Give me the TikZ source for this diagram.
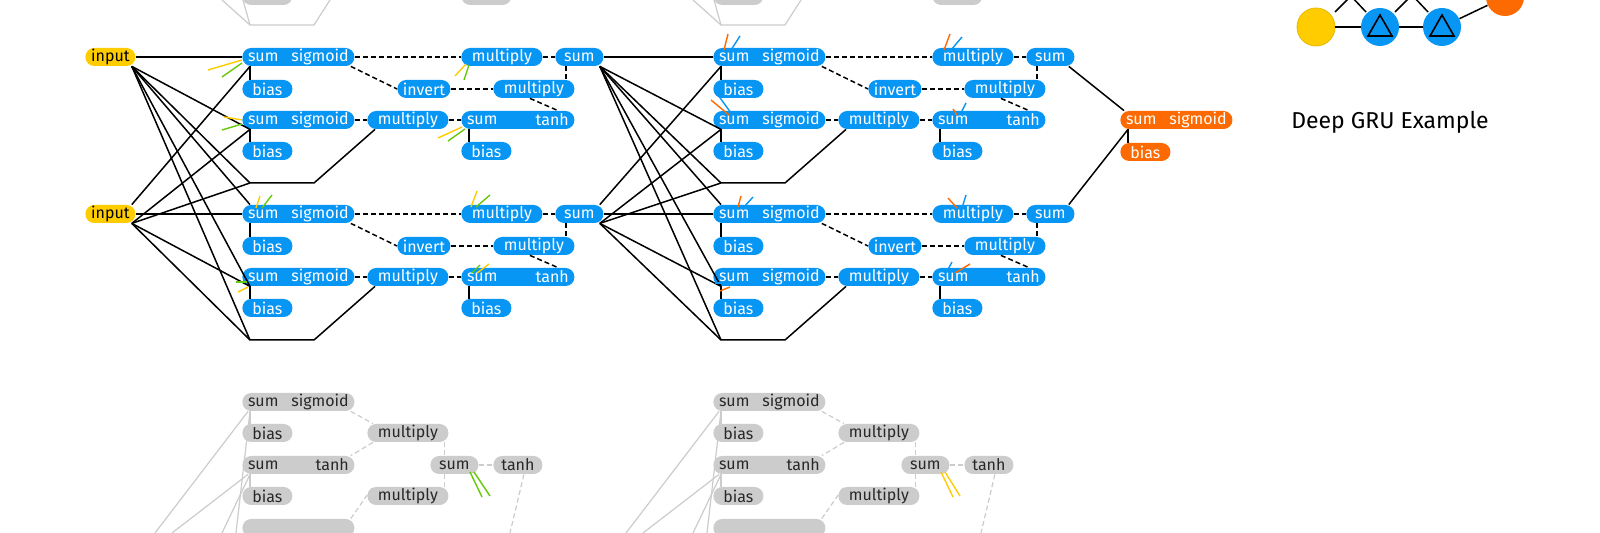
\documentclass[tikz,border=0pt]{standalone}
\usepackage{fontspec}
\setmainfont{Fira Sans}
\definecolor{bl}{RGB}{8,150,245}
\definecolor{og}{RGB}{253,106,2}
\definecolor{ye}{RGB}{255,204,0}
\definecolor{gr}{RGB}{204,204,204}
\definecolor{gn}{RGB}{102,200,10}
\definecolor{gt}{RGB}{40,40,40}
\tikzset{
 pill/.style={rounded corners=4.4pt,minimum height=9pt,inner sep=0pt,text=white,font=\fontsize{8}{9}\selectfont,anchor=west},
 lbl/.style={inner sep=0pt,text=white,font=\fontsize{8}{9}\selectfont},
 ln/.style={line width=0.75pt,black},
 dl/.style={line width=0.75pt,black,dash pattern=on 2.5pt off 1.5pt},
 gl/.style={line width=0.6pt,gr},
 gd/.style={line width=0.6pt,gr,dash pattern=on 2.5pt off 1.5pt},
 tk/.style={line width=0.7pt},
}
% name, x, y, width, colour, left text, right text, text colour
\newcommand\mypl[8]{%
 \node[pill,fill=#5,minimum width=#4*0.5pt] (#1) at (#2,#3) {};
 \node[lbl,text=#8,anchor=west] at ([xshift=2.8pt]#1.west) {#6};
 \node[lbl,text=#8,anchor=east] at ([xshift=-2.8pt]#1.east) {#7};}
% name, x, y, width, colour, text, text colour
\newcommand\mysp[7]{%
 \node[pill,fill=#5,minimum width=#4*0.5pt,text=#7] (#1) at (#2,#3) {#6};}
% one GRU unit: prefix, dx, dy
\newcommand\gruunit[3]{%
 \mypl{#1a}{#2+242}{#3+57}{112}{bl}{sum}{sigmoid}{white}
 \mysp{#1ab}{#2+242}{#3+89}{50}{bl}{bias}{white}
 \mypl{#1b}{#2+242}{#3+120}{112}{bl}{sum}{sigmoid}{white}
 \mysp{#1bb}{#2+242}{#3+151}{50}{bl}{bias}{white}
 \mysp{#1m}{#2+461}{#3+57}{81}{bl}{multiply}{white}
 \mysp{#1s}{#2+555}{#3+57}{48}{bl}{sum}{white}
 \mysp{#1i}{#2+397}{#3+89}{53}{bl}{invert}{white}
 \mysp{#1n}{#2+493}{#3+89}{81}{bl}{multiply}{white}
 \mysp{#1o}{#2+367}{#3+120}{81}{bl}{multiply}{white}
 \mypl{#1t}{#2+461}{#3+120}{113}{bl}{sum}{tanh}{white}
 \mysp{#1tb}{#2+461}{#3+151}{50}{bl}{bias}{white}
 \coordinate (#1c) at (#2+250,#3+183);
 \coordinate (#1d) at (#2+314,#3+183);
 \draw[ln] ([xshift=4pt]#1a.south west) -- ([xshift=4pt]#1ab.north west);
 \draw[ln] ([xshift=4pt]#1b.south west) -- ([xshift=4pt]#1bb.north west);
 \draw[ln] ([xshift=4pt]#1t.south west) -- ([xshift=4pt]#1tb.north west);
 \draw[dl] (#1a.east) -- (#1m.west);
 \draw[dl] ([xshift=-2pt]#1a.south east) -- (#1i.west);
 \draw[dl] (#1i.east) -- (#1n.west);
 \draw[dl] (#1m.east) -- (#1s.west);
 \draw[dl] ([xshift=5.5pt]#1s.south west) -- ([xshift=5.5pt]#1s.south west |- #1n.north);
 \draw[dl] ([xshift=-2pt]#1n.south) -- ([xshift=20pt]#1t.north);
 \draw[dl] (#1b.east) -- (#1o.west);
 \draw[dl] (#1o.east) -- (#1t.west);
 \draw[ln] (#1c) -- (#1d) -- ([xshift=4pt]#1o.south west);}
% grey unit (bottom): prefix, dx, dy
\newcommand\gunit[3]{%
 \mypl{#1a}{#2+242}{#3+402}{112}{gr}{sum}{sigmoid}{gt}
 \mysp{#1ab}{#2+242}{#3+433}{50}{gr}{bias}{gt}
 \mysp{#1m}{#2+367}{#3+433}{81}{gr}{multiply}{gt}
 \mypl{#1b}{#2+242}{#3+465}{112}{gr}{sum}{tanh}{gt}
 \mysp{#1bb}{#2+242}{#3+496}{50}{gr}{bias}{gt}
 \mysp{#1n}{#2+367}{#3+496}{81}{gr}{multiply}{gt}
 \mysp{#1s}{#2+430}{#3+465}{48}{gr}{sum}{gt}
 \mysp{#1t}{#2+493}{#3+465}{49}{gr}{tanh}{gt}
 \node[pill,fill=gr,minimum width=56pt] (#1x) at (#2+242,#3+528) {};
 \draw[gl] ([xshift=4pt]#1a.south west) -- ([xshift=4pt]#1ab.north west);
 \draw[gl] ([xshift=4pt]#1b.south west) -- ([xshift=4pt]#1bb.north west);
 \draw[gl] ([xshift=3pt]#1a.south west) -- (#2+155,533);
 \draw[gl] ([xshift=4pt]#1a.south west) -- (#2+236,533);
 \draw[gl] ([xshift=3pt]#1b.south west) -- (#2+172,533);
 \draw[gl] ([xshift=4pt]#1b.south west) -- (#2+222,533);
 \draw[gd] ([xshift=-2pt]#1a.south east) -- ([xshift=3pt]#1m.north west);
 \draw[gd] ([xshift=3pt]#1m.south west) -- ([xshift=-2pt]#1b.north east);
 \draw[gd] ([xshift=-2pt]#1x.north east) -- ([xshift=3pt]#1n.north west);
 \draw[gd] ([xshift=-2pt]#1m.south east) -- ([xshift=-2pt]#1m.south east |- #1s.north);
 \draw[gd] ([xshift=-2pt]#1n.north east) -- ([xshift=-2pt]#1n.north east |- #1s.south);
 \draw[gd] (#1s.east) -- (#1t.west);
 \draw[gd] ([xshift=3pt]#1t.south) -- (#2+510,533);}
% grey fragments at top: prefix, dx
\newcommand\gtop[2]{%
 \node[pill,fill=gr,minimum width=25pt] (#1p) at (#2+242,-4) {};
 \node[pill,fill=gr,minimum width=25pt] (#1q) at (#2+461,-4) {};
 \coordinate (#1c) at (#2+250,25);
 \coordinate (#1d) at (#2+314,25);
 \draw[gl] (#2+222,0) -- (#1c) -- (#1d) -- (#2+330,0);
 \draw[gl] (#2+243,0) -- (#1c);}
\begin{document}
\begin{tikzpicture}[x=0.5pt,y=-0.5pt]
\path[use as bounding box,fill=white] (0,0) rectangle (1600,533);
\clip (0,0) rectangle (1600,533);

\gtop{ga}{0}
\gtop{gb}{471}
\gunit{ua}{0}{0}
\gunit{ub}{471}{0}
\draw[gn,tk] (470,472) -- (482,497);
\draw[gn,tk] (474,472) -- (490,496);
\draw[ye,tk] (941,472) -- (953,497);
\draw[ye,tk] (945,472) -- (960,496);

\mysp{in1}{85}{57}{50}{ye}{input}{black}
\mysp{in2}{85}{214}{50}{ye}{input}{black}

\gruunit{A}{0}{0}
\gruunit{B}{0}{157}
\gruunit{C}{471}{0}
\gruunit{D}{471}{157}

% fan-in block 1
\foreach \s/\u in {in1/A,in2/B}{
  \draw[ln] (\s.east) -- (\u a.west);}
\foreach \s in {in1,in2}{
  \foreach \u in {A,B}{
    \draw[ln] ([xshift=-2pt]\s.south east) -- ([xshift=4pt]\u b.south west);
    \draw[ln] ([xshift=-2pt]\s.south east) -- (\u c);}}
\draw[ln] ([xshift=-2pt]in1.south east) -- ([xshift=4pt]Ba.north west);
\draw[ln] ([xshift=-2pt]in2.north east) -- ([xshift=4pt]Aa.south west);
% fan-in block 2
\foreach \s/\u in {As/C,Bs/D}{
  \draw[ln] (\s.east) -- (\u a.west);}
\foreach \s in {As,Bs}{
  \foreach \u in {C,D}{
    \draw[ln] ([xshift=-2pt]\s.south east) -- ([xshift=4pt]\u b.south west);
    \draw[ln] ([xshift=-2pt]\s.south east) -- (\u c);}}
\draw[ln] ([xshift=-2pt]As.south east) -- ([xshift=4pt]Da.north west);
\draw[ln] ([xshift=-2pt]Bs.north east) -- ([xshift=4pt]Ca.south west);

% output
\mypl{O}{1120}{120}{112}{og}{sum}{sigmoid}{white}
\mysp{Ob}{1120}{152}{50}{og}{bias}{white}
\draw[ln] ([xshift=4pt]O.south west) -- ([xshift=4pt]Ob.north west);
\draw[ln] ([xshift=-3pt]Cs.south east) -- ([xshift=2pt]O.north west);
\draw[ln] ([xshift=-3pt]Ds.north east) -- ([xshift=4pt]O.south west);

% coloured ticks block 1
\draw[ye,tk] (208,70) -- (242,60);  \draw[gn,tk] (222,77) -- (242,63);
\draw[ye,tk] (224,117) -- (242,120); \draw[gn,tk] (222,130) -- (242,124);
\draw[ye,tk] (455,76) -- (466,64);  \draw[gn,tk] (464,80) -- (469,65);
\draw[ye,tk] (438,138) -- (462,127); \draw[gn,tk] (448,141) -- (465,129);
\draw[ye,tk] (260,196) -- (256,208); \draw[gn,tk] (272,195) -- (262,208);
\draw[ye,tk] (477,191) -- (471,207); \draw[gn,tk] (490,195) -- (476,207);
\draw[gn,tk] (236,282) -- (247,282); \draw[ye,tk] (238,292) -- (248,287);
\draw[gn,tk] (480,265) -- (472,273); \draw[ye,tk] (489,264) -- (477,273);
% coloured ticks block 2
\draw[og,tk] (728,34) -- (724,50);  \draw[bl,tk] (740,36) -- (731,50);
\draw[og,tk] (950,34) -- (944,50);  \draw[bl,tk] (962,37) -- (951,50);
\draw[og,tk] (711,100) -- (729,115); \draw[bl,tk] (718,95) -- (731,113);
\draw[og,tk] (953,109) -- (957,115); \draw[bl,tk] (966,103) -- (960,115);
\draw[og,tk] (741,196) -- (738,207); \draw[bl,tk] (753,197) -- (744,207);
\draw[og,tk] (948,198) -- (957,208); \draw[bl,tk] (966,195) -- (962,208);
\draw[bl,tk] (952,262) -- (946,273); \draw[og,tk] (970,264) -- (955,273);
\draw[bl,tk] (715,283) -- (728,283); \draw[og,tk] (720,291) -- (730,287);

% legend
\draw[ln] (1335,12) -- (1352,-5); \draw[ln] (1366,12) -- (1350,-5);
\draw[ln] (1395,12) -- (1412,-5); \draw[ln] (1428,12) -- (1412,-5);
\node[circle,fill=ye,draw=ye!90!black,minimum size=19pt,inner sep=0pt] (cy) at (1316,27) {};
\node[circle,fill=bl,minimum size=19pt,inner sep=0pt] (cb1) at (1380,27) {};
\node[circle,fill=bl,minimum size=19pt,inner sep=0pt] (cb2) at (1442,27) {};
\node[circle,fill=og,minimum size=19pt,inner sep=0pt] (co) at (1505,-3) {};
\draw[ln] (cy) -- (cb1); \draw[ln] (cb1) -- (cb2); \draw[ln] (cb2) -- (co);
\foreach \c in {cb1,cb2}{
 \draw[line width=0.8pt] ([shift={(-12,9)}]\c.center) -- ([shift={(12,9)}]\c.center) -- ([shift={(0,-12)}]\c.center) -- cycle;}
\node[font=\fontsize{11.5}{13}\selectfont,inner sep=0pt] (title) at (1390,122) {Deep GRU Example};
\end{tikzpicture}
\end{document}
